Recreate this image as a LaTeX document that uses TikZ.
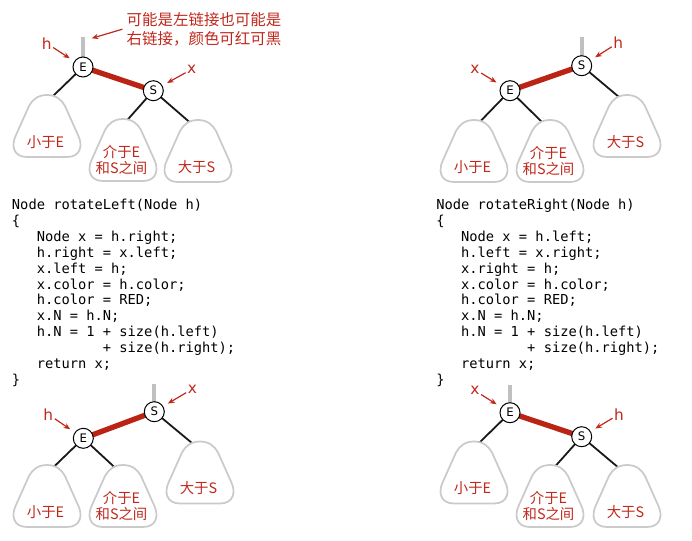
\documentclass[tikz,border=0pt]{standalone}
\usepackage{fontspec}
\setmainfont{DejaVu Sans}
\setmonofont{DejaVu Sans Mono}
\newfontfamily\cjk{Noto Sans CJK SC}
\usetikzlibrary{arrows.meta,backgrounds}
\definecolor{myred}{RGB}{192,40,28}
\definecolor{edgered}{RGB}{185,36,20}
\definecolor{stubgray}{RGB}{192,192,192}
\definecolor{blobgray}{RGB}{202,202,202}
\tikzset{
 treenode/.style={circle,draw=black,line width=0.75pt,fill=white,minimum size=15pt,inner sep=0pt,font=\fontsize{8.8}{10}\selectfont},
 blackedge/.style={line width=1.35pt,black!90},
 rededge/.style={line width=4pt,edgered},
 stub/.style={line width=3pt,stubgray},
 blobline/.style={line width=1.3pt,draw=blobgray,fill=white,line join=round},
 blobtext/.style={text=myred,font=\cjk\fontsize{10.8}{12}\selectfont,inner sep=0pt},
 lab/.style={text=myred,font=\fontsize{11.5}{13}\selectfont,inner sep=1pt},
 arr/.style={myred,line width=0.9pt,-{Stealth[length=5pt,width=4pt]}},
 codeline/.style={font=\ttfamily\fontsize{10.3}{12}\selectfont,anchor=base west,inner sep=0pt},
}
\newcommand\blobshape[2]{%
 \path[blobline] ({#1},{#2}) .. controls ({#1+9},{#2}) and ({#1+14.5},{#2+4.5}) .. ({#1+18},{#2+11})
  -- ({#1+31},{#2+40}) .. controls ({#1+36},{#2+50}) and ({#1+34},{#2+62}) .. ({#1+20},{#2+62})
  -- ({#1-20},{#2+62}) .. controls ({#1-34},{#2+62}) and ({#1-36},{#2+50}) .. ({#1-31},{#2+40})
  -- ({#1-18},{#2+11}) .. controls ({#1-14.5},{#2+4.5}) and ({#1-9},{#2}) .. ({#1},{#2}) -- cycle;}
\newcommand\blobone[4]{% cx, t, name, text
 \blobshape{#1}{#2}
 \node[blobtext] (#3) at ({#1-1.5},{#2+47}) {#4};}
\newcommand\blobtwo[5]{% cx, t, name, line1, line2
 \blobshape{#1}{#2}
 \node[blobtext] (#3a) at ({#1-1.5},{#2+33}) {#4};
 \node[blobtext] (#3b) at ({#1-1.5},{#2+49}) {#5};}
\begin{document}
\begin{tikzpicture}[x=0.75pt,y=-0.75pt]
\useasboundingbox (0,0) rectangle (692,540);

% ---------- top left ----------
\node[treenode] (E1) at (83,67) {E};
\node[treenode] (S1) at (153.3,90.7) {S};
\coordinate (st1) at (83,37);
\coordinate (a1) at (51.7,97.3);
\coordinate (b1) at (126.7,120.7);
\coordinate (c1) at (191.7,124);
\blobone{47}{95}{tL1}{小于E}
\blobtwo{123}{119}{tM1}{介于E}{和S之间}
\blobone{198}{120}{tR1}{大于S}
\node[lab] (h1) at (46.7,43.3) {h};
\node[lab] (x1) at (191.7,69.3) {x};
\draw[arr,shorten >=4pt] (h1) -- (E1);
\draw[arr,shorten >=4pt] (x1) -- (S1);
\node[text=myred,font=\cjk\fontsize{11.6}{13.7}\selectfont,align=left,inner sep=3pt] (ann) at (204,29.2) {可能是左链接也可能是\\右链接，颜色可红可黑};
\coordinate (tipA) at (91.7,38.3);
\draw[arr] (ann.west) -- (tipA);
\begin{pgfonlayer}{background}
 \draw[stub] (st1) -- (E1.center);
 \draw[rededge] (E1.center) -- (S1.center);
 \draw[blackedge] (E1.center) -- (a1);
 \draw[blackedge] (S1.center) -- (b1);
 \draw[blackedge] (S1.center) -- (c1);
\end{pgfonlayer}

% ---------- top right ----------
\node[treenode] (E2) at (510,90.7) {E};
\node[treenode] (S2) at (581.7,65.7) {S};
\coordinate (st2) at (581.7,37);
\coordinate (a2) at (479,122.7);
\coordinate (b2) at (542.7,122.7);
\coordinate (c2) at (619.3,97.3);
\blobone{474}{120}{tL2}{小于E}
\blobtwo{550}{120}{tM2}{介于E}{和S之间}
\blobone{627}{95}{tR2}{大于S}
\node[lab] (h2) at (618.3,42.7) {h};
\node[lab] (x2) at (475,69.3) {x};
\draw[arr,shorten >=4pt] (h2) -- (S2);
\draw[arr,shorten >=4pt] (x2) -- (E2);
\begin{pgfonlayer}{background}
 \draw[stub] (st2) -- (S2.center);
 \draw[rededge] (E2.center) -- (S2.center);
 \draw[blackedge] (E2.center) -- (a2);
 \draw[blackedge] (E2.center) -- (b2);
 \draw[blackedge] (S2.center) -- (c2);
\end{pgfonlayer}

% ---------- bottom left ----------
\node[treenode] (E3) at (83.3,438.3) {E};
\node[treenode] (S3) at (154.3,411.7) {S};
\coordinate (st3) at (154.3,384);
\coordinate (a3) at (52.3,468.3);
\coordinate (b3) at (115.7,468.3);
\coordinate (c3) at (192.3,443.3);
\blobone{47}{465}{tL3}{小于E}
\blobtwo{123}{465}{tM3}{介于E}{和S之间}
\blobone{200}{441.5}{tR3}{大于S}
\node[lab] (x3) at (192.3,389) {x};
\node[lab] (h3) at (48.3,414.3) {h};
\draw[arr,shorten >=4pt] (x3) -- (S3);
\draw[arr,shorten >=4pt] (h3) -- (E3);
\begin{pgfonlayer}{background}
 \draw[stub] (st3) -- (S3.center);
 \draw[rededge] (E3.center) -- (S3.center);
 \draw[blackedge] (E3.center) -- (a3);
 \draw[blackedge] (E3.center) -- (b3);
 \draw[blackedge] (S3.center) -- (c3);
\end{pgfonlayer}

% ---------- bottom right ----------
\node[treenode] (E4) at (510,412.7) {E};
\node[treenode] (S4) at (581.7,436.7) {S};
\coordinate (st4) at (510,385);
\coordinate (a4) at (479.3,442.7);
\coordinate (b4) at (554.3,467.3);
\coordinate (c4) at (619.3,468.3);
\blobone{474}{441.5}{tL4}{小于E}
\blobtwo{550}{465}{tM4}{介于E}{和S之间}
\blobone{627}{465}{tR4}{大于S}
\node[lab] (x4) at (475,390.7) {x};
\node[lab] (h4) at (619,414.3) {h};
\draw[arr,shorten >=4pt] (x4) -- (E4);
\draw[arr,shorten >=4pt] (h4) -- (S4);
\begin{pgfonlayer}{background}
 \draw[stub] (st4) -- (E4.center);
 \draw[rededge] (E4.center) -- (S4.center);
 \draw[blackedge] (E4.center) -- (a4);
 \draw[blackedge] (S4.center) -- (b4);
 \draw[blackedge] (S4.center) -- (c4);
\end{pgfonlayer}

% ---------- code left ----------
\node[codeline] (cl1) at (11.7,209.5) {Node rotateLeft(Node h)};
\node[codeline] (cl2) at (11.7,225.4) {\{};
\node[codeline] (cl3) at (11.7,241.3) {\phantom{xxx}Node x = h.right;};
\node[codeline] (cl4) at (11.7,257.2) {\phantom{xxx}h.right = x.left;};
\node[codeline] (cl5) at (11.7,273.1) {\phantom{xxx}x.left = h;};
\node[codeline] (cl6) at (11.7,289.0) {\phantom{xxx}x.color = h.color;};
\node[codeline] (cl7) at (11.7,304.9) {\phantom{xxx}h.color = RED;};
\node[codeline] (cl8) at (11.7,320.8) {\phantom{xxx}x.N = h.N;};
\node[codeline] (cl9) at (11.7,336.7) {\phantom{xxx}h.N = 1 + size(h.left)};
\node[codeline] (cl10) at (11.7,352.6) {\phantom{xxxxxxxxxxx}+ size(h.right);};
\node[codeline] (cl11) at (11.7,368.5) {\phantom{xxx}return x;};
\node[codeline] (cl12) at (11.7,384.4) {\}};

% ---------- code right ----------
\node[codeline] (cr1) at (436,209.5) {Node rotateRight(Node h)};
\node[codeline] (cr2) at (436,225.4) {\{};
\node[codeline] (cr3) at (436,241.3) {\phantom{xxx}Node x = h.left;};
\node[codeline] (cr4) at (436,257.2) {\phantom{xxx}h.left = x.right;};
\node[codeline] (cr5) at (436,273.1) {\phantom{xxx}x.right = h;};
\node[codeline] (cr6) at (436,289.0) {\phantom{xxx}x.color = h.color;};
\node[codeline] (cr7) at (436,304.9) {\phantom{xxx}h.color = RED;};
\node[codeline] (cr8) at (436,320.8) {\phantom{xxx}x.N = h.N;};
\node[codeline] (cr9) at (436,336.7) {\phantom{xxx}h.N = 1 + size(h.left)};
\node[codeline] (cr10) at (436,352.6) {\phantom{xxxxxxxxxxx}+ size(h.right);};
\node[codeline] (cr11) at (436,368.5) {\phantom{xxx}return x;};
\node[codeline] (cr12) at (436,384.4) {\}};
\end{tikzpicture}
\end{document}
